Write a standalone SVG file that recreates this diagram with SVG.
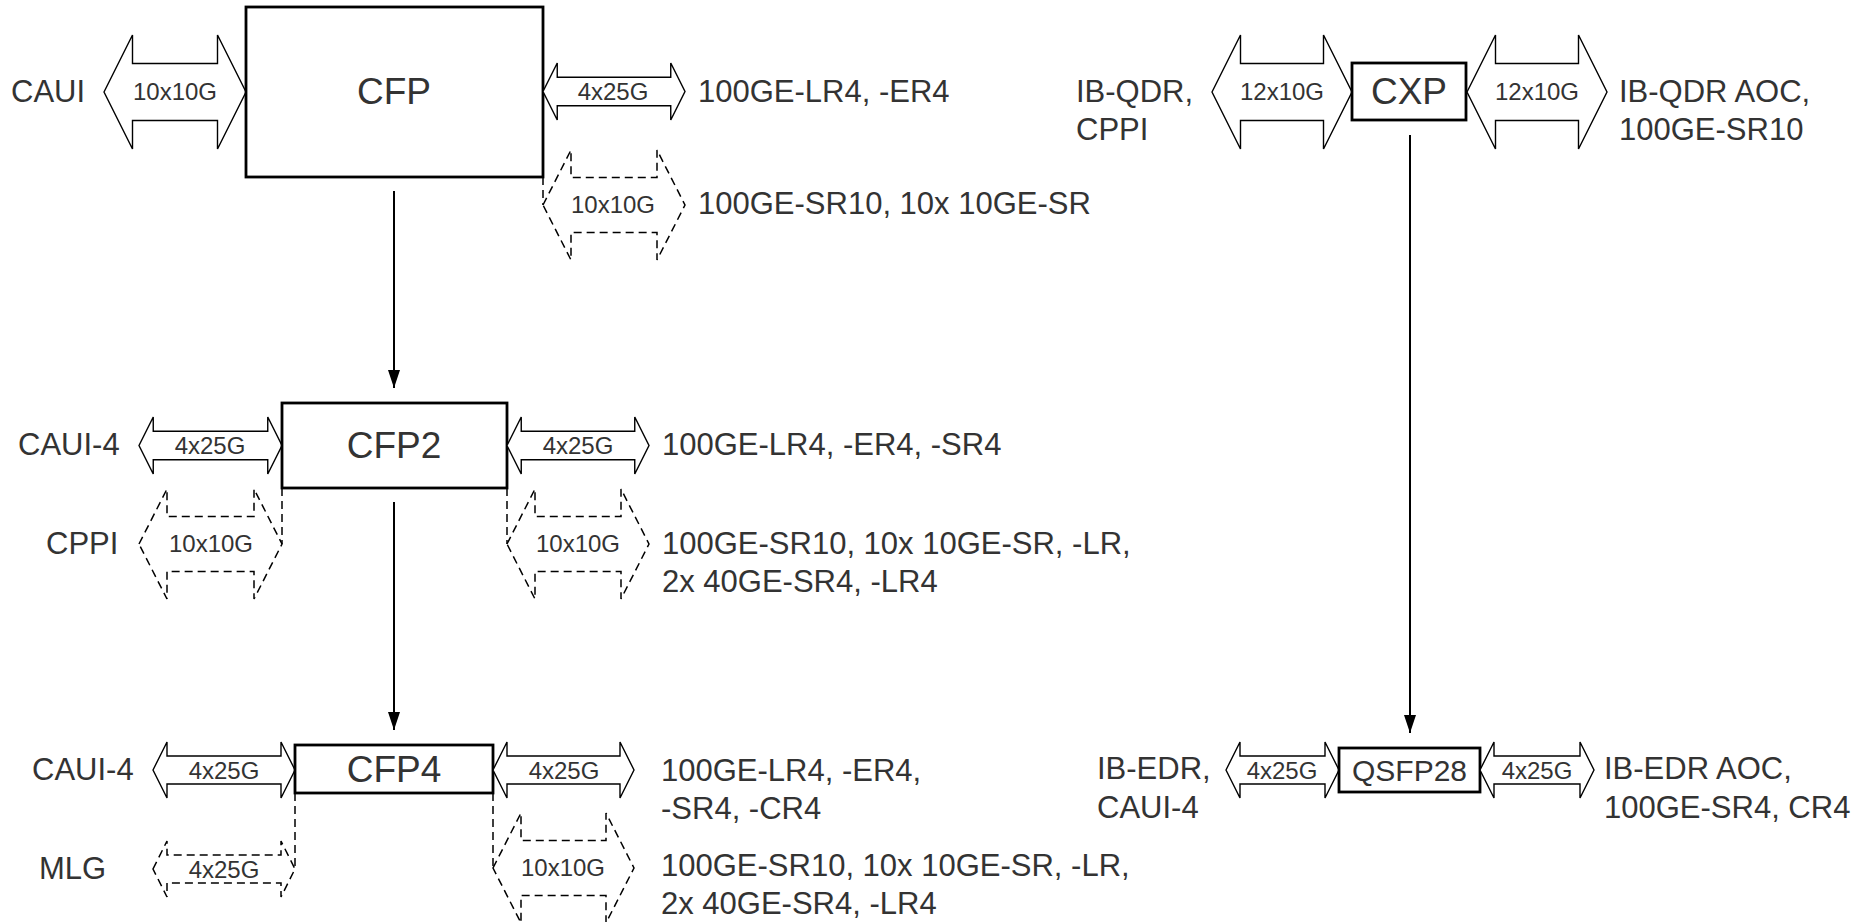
<svg xmlns="http://www.w3.org/2000/svg" width="1856" height="922" viewBox="0 0 1856 922">
<defs>
<style>
.box{fill:#fff;stroke:#000;stroke-width:2.8}
.arr{fill:#fff;stroke:#000;stroke-width:1.4;stroke-linejoin:miter}
.dash{fill:#fff;stroke:#000;stroke-width:1.5;stroke-dasharray:8 5}
.vd{fill:none;stroke:#000;stroke-width:1.5;stroke-dasharray:8 5}
.con{fill:none;stroke:#000;stroke-width:2}
text{font-family:"Liberation Sans",Arial,sans-serif;fill:#333}
.t{font-size:31px}
.lbl{font-size:24px;text-anchor:middle}
.big{font-size:37px;text-anchor:middle}
.mid{font-size:30px;text-anchor:middle}
</style>
<marker id="ah" markerUnits="userSpaceOnUse" markerWidth="18" markerHeight="26" refX="24" refY="8" viewBox="0 0 24 16" orient="auto">
<path d="M0,0 L24,8 L0,16 Z" fill="#000"/>
</marker>
</defs>
<rect width="1856" height="922" fill="#fff"/>

<g id="connectors">
<line class="con" x1="394" y1="191" x2="394" y2="388" marker-end="url(#ah)"/>
<line class="con" x1="394" y1="502" x2="394" y2="730" marker-end="url(#ah)"/>
<line class="con" x1="1410" y1="135" x2="1410" y2="733" marker-end="url(#ah)"/>
</g>

<g id="cfp">
<path class="arr" d="M104,92 L132.5,35 L132.5,63.5 L217.5,63.5 L217.5,35 L246,92 L217.5,149 L217.5,120.5 L132.5,120.5 L132.5,149 Z"/>
<text class="t" x="11" y="102">CAUI</text>
<text class="lbl" x="175" y="100">10x10G</text>
<rect class="box" x="246" y="7" width="297" height="170"/>
<text class="big" x="394" y="104">CFP</text>
<path class="arr" d="M543,91.5 L557.25,63 L557.25,77.25 L670.75,77.25 L670.75,63 L685,91.5 L670.75,120 L670.75,105.75 L557.25,105.75 L557.25,120 Z"/>
<text class="lbl" x="613" y="100">4x25G</text>
<text class="t" x="698" y="102">100GE-LR4, -ER4</text>
<line class="vd" x1="543" y1="177" x2="543" y2="205"/>
<path class="dash" d="M543,205 L571,150 L571,177.5 L657,177.5 L657,150 L685,205 L657,260 L657,232.5 L571,232.5 L571,260 Z"/>
<text class="lbl" x="613" y="213">10x10G</text>
<text class="t" x="698" y="214">100GE-SR10, 10x 10GE-SR</text>
</g>

<g id="cxp">
<text class="t" x="1076" y="102">IB-QDR,</text>
<text class="t" x="1076" y="140">CPPI</text>
<path class="arr" d="M1212,92 L1240.5,35 L1240.5,63.5 L1323.5,63.5 L1323.5,35 L1352,92 L1323.5,149 L1323.5,120.5 L1240.5,120.5 L1240.5,149 Z"/>
<text class="lbl" x="1282" y="100">12x10G</text>
<rect class="box" x="1352" y="63" width="114" height="57"/>
<text class="big" x="1409" y="104">CXP</text>
<path class="arr" d="M1467,92 L1495.5,35 L1495.5,63.5 L1578.5,63.5 L1578.5,35 L1607,92 L1578.5,149 L1578.5,120.5 L1495.5,120.5 L1495.5,149 Z"/>
<text class="lbl" x="1537" y="100">12x10G</text>
<text class="t" x="1619" y="102">IB-QDR AOC,</text>
<text class="t" x="1619" y="140">100GE-SR10</text>
</g>

<g id="cfp2">
<text class="t" x="18" y="455">CAUI-4</text>
<path class="arr" d="M139,445.5 L153.25,417 L153.25,431.25 L267.75,431.25 L267.75,417 L282,445.5 L267.75,474 L267.75,459.75 L153.25,459.75 L153.25,474 Z"/>
<text class="lbl" x="210" y="454">4x25G</text>
<rect class="box" x="282" y="403" width="225" height="85"/>
<text class="big" x="394" y="458">CFP2</text>
<path class="arr" d="M507,445.5 L521.25,417 L521.25,431.25 L634.75,431.25 L634.75,417 L649,445.5 L634.75,474 L634.75,459.75 L521.25,459.75 L521.25,474 Z"/>
<text class="lbl" x="578" y="454">4x25G</text>
<text class="t" x="662" y="455">100GE-LR4, -ER4, -SR4</text>
<text class="t" x="46" y="554">CPPI</text>
<line class="vd" x1="282" y1="488" x2="282" y2="544"/>
<path class="dash" d="M139,544 L167,489 L167,516.5 L254,516.5 L254,489 L282,544 L254,599 L254,571.5 L167,571.5 L167,599 Z"/>
<text class="lbl" x="211" y="552">10x10G</text>
<line class="vd" x1="507" y1="488" x2="507" y2="544"/>
<path class="dash" d="M507,544 L535,489 L535,516.5 L621,516.5 L621,489 L649,544 L621,599 L621,571.5 L535,571.5 L535,599 Z"/>
<text class="lbl" x="578" y="552">10x10G</text>
<text class="t" x="662" y="554">100GE-SR10, 10x 10GE-SR, -LR,</text>
<text class="t" x="662" y="592">2x 40GE-SR4, -LR4</text>
</g>

<g id="cfp4">
<text class="t" x="32" y="780">CAUI-4</text>
<path class="arr" d="M153,770 L167,742 L167,756 L281,756 L281,742 L295,770 L281,798 L281,784 L167,784 L167,798 Z"/>
<text class="lbl" x="224" y="779">4x25G</text>
<rect class="box" x="295" y="745" width="198" height="48"/>
<text class="big" x="394" y="782">CFP4</text>
<path class="arr" d="M493,770 L507,742 L507,756 L620,756 L620,742 L634,770 L620,798 L620,784 L507,784 L507,798 Z"/>
<text class="lbl" x="564" y="779">4x25G</text>
<text class="t" x="661" y="781">100GE-LR4, -ER4,</text>
<text class="t" x="661" y="819">-SR4, -CR4</text>
<text class="t" x="39" y="879">MLG</text>
<line class="vd" x1="295" y1="793" x2="295" y2="869"/>
<path class="dash" d="M153,869 L167,841 L167,855 L281,855 L281,841 L295,869 L281,897 L281,883 L167,883 L167,897 Z"/>
<text class="lbl" x="224" y="878">4x25G</text>
<line class="vd" x1="493" y1="793" x2="493" y2="868"/>
<path class="dash" d="M493,868 L521,813 L521,840.5 L606,840.5 L606,813 L634,868 L606,923 L606,895.5 L521,895.5 L521,923 Z"/>
<text class="lbl" x="563" y="876">10x10G</text>
<text class="t" x="661" y="876">100GE-SR10, 10x 10GE-SR, -LR,</text>
<text class="t" x="661" y="914">2x 40GE-SR4, -LR4</text>
</g>

<g id="qsfp28">
<text class="t" x="1097" y="779">IB-EDR,</text>
<text class="t" x="1097" y="818">CAUI-4</text>
<path class="arr" d="M1226,770 L1240,742 L1240,756 L1325,756 L1325,742 L1339,770 L1325,798 L1325,784 L1240,784 L1240,798 Z"/>
<text class="lbl" x="1282" y="779">4x25G</text>
<rect class="box" x="1339" y="748" width="141" height="44"/>
<text class="mid" x="1409.5" y="781">QSFP28</text>
<path class="arr" d="M1480,770 L1494,742 L1494,756 L1580,756 L1580,742 L1594,770 L1580,798 L1580,784 L1494,784 L1494,798 Z"/>
<text class="lbl" x="1537" y="779">4x25G</text>
<text class="t" x="1604" y="779">IB-EDR AOC,</text>
<text class="t" x="1604" y="818">100GE-SR4, CR4</text>
</g>
</svg>
